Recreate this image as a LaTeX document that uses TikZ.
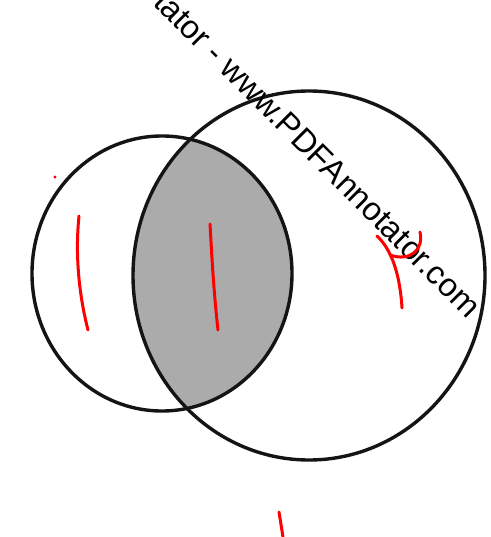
\documentclass[tikz,border=0pt]{standalone}
\usepackage{fontspec}
\setmainfont{Liberation Sans}
\begin{document}
\begin{tikzpicture}[x=1pt,y=-1pt,
  ring/.style={draw=black!92, line width=3.4pt},
  lens/.style={fill=black!33},
  pen/.style={draw=red, line width=3pt, line cap=round},
  wmark/.style={anchor=base west, rotate=-45, inner sep=0pt, text=black,
    font=\fontsize{32.6}{38}\selectfont}]
\useasboundingbox (0,0) rectangle (490,537);
\clip (0,0) rectangle (490,537);
\fill[white] (0,0) rectangle (490,537);
% shaded intersection
\begin{scope}
  \clip (162,273.5) ellipse [x radius=130, y radius=137.5];
  \fill[lens] (309,275.5) ellipse [x radius=176, y radius=184.5];
\end{scope}
% circles
\draw[ring] (162,273.5) ellipse [x radius=130, y radius=137.5];
\draw[ring] (309,275.5) ellipse [x radius=176, y radius=184.5];
% watermark
\node[wmark] (wm) at (152,4) {tator - www.PDFAnnotator.com};
% red pen marks
\fill[red] (55,177) circle (1.6);
\draw[pen] (79,216) .. controls (75,255) and (79,295) .. (88,330);
\draw[pen] (210,224) .. controls (212,260) and (214,295) .. (218,330);
\draw[pen] (377,236) .. controls (392,250) and (400,275) .. (402,308);
\draw[pen] (420,232) .. controls (424,250) and (410,262) .. (390,255);
\draw[pen] (279,512) -- (283,537);
\end{tikzpicture}
\end{document}
